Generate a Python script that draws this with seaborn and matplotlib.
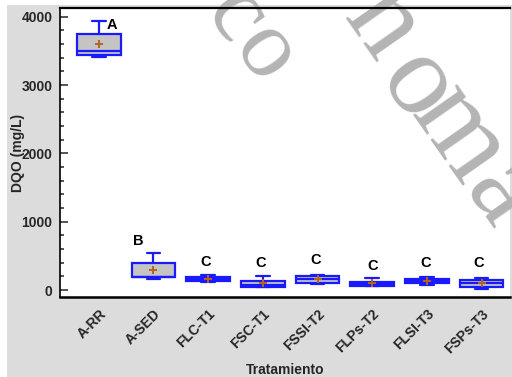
import numpy as np
import pandas as pd
import matplotlib
matplotlib.use("Agg")
import matplotlib.pyplot as plt
import matplotlib.transforms as mtrans
from matplotlib.patches import Rectangle
from matplotlib.ticker import MultipleLocator
import seaborn as sns

# ---- data ----
categories = ['A-RR', 'A-SED', 'FLC-T1', 'FSC-T1', 'FSSI-T2', 'FLPs-T2', 'FLSI-T3', 'FSPs-T3']
a_rr    = [3408, 3433, 3496, 3751, 3931]
a_sed   = [158, 185, 195, 390, 545]
flc_t1  = [114, 130, 160, 190, 227]
fsc_t1  = [38, 42, 80, 129, 212]
fssi_t2 = [95, 110, 158, 208, 227]
flps_t2 = [56, 58, 95, 124, 173]
flsi_t3 = [80, 110, 135, 158, 193]
fsps_t3 = [18, 41, 100, 154, 173]
letters = ['A', 'B', 'C', 'C', 'C', 'C', 'C', 'C']
letter_y = [3873, 714, 417, 392, 446, 348, 402, 402]
letter_dx = [0.24, -0.27, -0.04, -0.04, -0.04, 0.0, -0.03, -0.05]
yticks = [0, 1000, 2000, 3000, 4000]

# watermark glyphs, their centres (pixels from top-left) and sizes
wm_chars = ['c', 'o', 'n', 'o', 'm', 'a']
wm_px = [235, 264, 382, 416, 458, 500]
wm_py = [17, 54, 25, 87, 135, 196]
wm_size = [70, 70, 84, 84, 84, 84]

series = [a_rr, a_sed, flc_t1, fsc_t1, fssi_t2, flps_t2, flsi_t3, fsps_t3]
df = pd.DataFrame({
    'Tratamiento': np.repeat(categories, [len(s) for s in series]),
    'DQO': np.concatenate(series),
})

sns.set_style("white")
plt.rcParams['font.family'] = ['Liberation Sans', 'DejaVu Sans']

W, H = 512, 377
fig = plt.figure(figsize=(W / 100, H / 100), dpi=100, facecolor='white')
fig.patches.append(Rectangle((7 / W, 0), 1 - 7 / W, 1 - 5 / H, transform=fig.transFigure,
                             facecolor='#dcdcdc', edgecolor='none', zorder=-10))
ax = fig.add_axes([60 / W, 1 - 297 / H, 450 / W, 289 / H])
ax.set_facecolor('white')

blue = '#1a1aff'
sns.boxplot(data=df, x='Tratamiento', y='DQO', order=categories, ax=ax,
            whis=(0, 100), width=0.8, saturation=1, color='#c4c4c4',
            linecolor=blue, linewidth=1.6, showmeans=True,
            capwidths=0.25,
            meanprops=dict(marker='+', markeredgecolor='#b8621b', markerfacecolor='#b8621b',
                           markersize=6, markeredgewidth=1.4),
            medianprops=dict(color=blue, linewidth=1.6),
            whiskerprops=dict(color=blue, linewidth=1.6),
            capprops=dict(color=blue, linewidth=1.6))

for i, (lab, ly, dx) in enumerate(zip(letters, letter_y, letter_dx)):
    ax.text(i + dx, ly, lab, ha='center', va='center', fontsize=10.5,
            fontweight='bold', color='black', zorder=5)

ax.set_xlim(-0.71, 7.52)
ax.set_ylim(-102, 4127)
ax.set_yticks(yticks)
ax.yaxis.set_minor_locator(MultipleLocator(200))
ax.tick_params(axis='y', which='major', direction='in', length=6, width=1.1,
               pad=5.5, labelsize=10, left=True)
ax.tick_params(axis='y', which='minor', direction='in', length=3, width=1.1, left=True)
ax.tick_params(axis='x', length=0, pad=10.5, labelsize=10)
for t in ax.get_yticklabels():
    t.set_fontweight('bold')
offset = mtrans.ScaledTranslation(5 / 100, 0, fig.dpi_scale_trans)
for t in ax.get_xticklabels():
    t.set_fontweight('bold')
    t.set_rotation(45)
    t.set_ha('right')
    t.set_va('center')
    t.set_rotation_mode('anchor')
    t.set_transform(t.get_transform() + offset)

ax.set_xlabel('Tratamiento', fontsize=10, fontweight='bold')
ax.set_ylabel('DQO (mg/L)', fontsize=10, fontweight='bold')
ax.xaxis.set_label_coords(0.5, -0.228)
ax.yaxis.set_label_coords(-0.077, 0.5)

for s in ['left', 'top', 'bottom']:
    ax.spines[s].set_visible(True)
    ax.spines[s].set_color('black')
ax.spines['left'].set_linewidth(1.2)
ax.spines['top'].set_linewidth(1.6)
ax.spines['bottom'].set_linewidth(1.8)
ax.spines['right'].set_visible(False)

# watermark
for ch, px, py, fs in zip(wm_chars, wm_px, wm_py, wm_size):
    ax.text(px / W, 1 - py / H, ch, fontsize=fs, color='#b4b4b4', rotation=-55,
            rotation_mode='anchor', ha='center', va='center',
            family=['Liberation Serif', 'DejaVu Serif'],
            transform=fig.transFigure, zorder=1.5, clip_on=False)

fig.savefig('out.png', dpi=100, facecolor='white')
